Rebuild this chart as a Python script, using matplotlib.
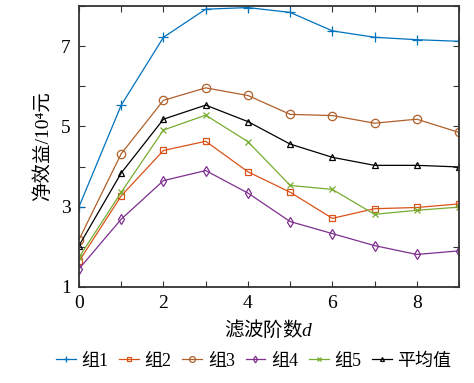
import matplotlib
matplotlib.use("Agg")
import matplotlib.pyplot as plt
import numpy as np

d = [0, 1, 2, 3, 4, 5, 6, 7, 8, 9]
group1 = [3.00, 5.53, 7.22, 7.92, 7.96, 7.84, 7.38, 7.22, 7.16, 7.12]
group2 = [1.64, 3.27, 4.40, 4.63, 3.87, 3.36, 2.71, 2.95, 2.98, 3.07]
group3 = [2.18, 4.32, 5.65, 5.96, 5.77, 5.30, 5.27, 5.08, 5.18, 4.85]
group4 = [1.45, 2.69, 3.65, 3.90, 3.34, 2.63, 2.33, 2.03, 1.81, 1.90]
group5 = [1.74, 3.36, 4.91, 5.28, 4.62, 3.53, 3.43, 2.81, 2.91, 2.99]
mean_v = [2.03, 3.84, 5.18, 5.53, 5.12, 4.56, 4.23, 4.03, 4.03, 3.99]
labels = ["组1", "组2", "组3", "组4", "组5", "平均值"]

plt.rcParams['font.family'] = ['Liberation Serif', 'Noto Sans CJK SC']
plt.rcParams['mathtext.fontset'] = 'custom'
plt.rcParams['mathtext.rm'] = 'Noto Sans CJK SC'
plt.rcParams['mathtext.it'] = 'Liberation Serif:italic'

fig = plt.figure(figsize=(4.74, 3.83), dpi=100)
ax = fig.add_axes([0.1667, 0.2507, 0.8017, 0.7337])

series = [group1, group2, group3, group4, group5, mean_v]
colors = ['#0072BD', '#D95319', '#B0602A', '#7E2F8E', '#77AC30', '#000000']
markers = ['+', 's', 'o', 'd', 'x', '^']
msizes = [7, 5, 6, 5, 5, 4]
for s, c, m, ms, lab in zip(series, colors, markers, msizes, labels):
    ax.plot(d, s, color=c, marker=m, markersize=ms, markerfacecolor='none',
            markeredgewidth=0.9, linewidth=0.9, label=lab)

ax.set_xlim(0, 9)
ax.set_ylim(1, 8)
ax.set_xticks(range(0, 10))
ax.set_xticklabels(['0', '', '2', '', '4', '', '6', '', '8', ''])
ax.set_yticks(range(1, 9))
ax.set_yticklabels(['1', '', '3', '', '5', '', '7', ''])
ax.tick_params(direction='in', top=True, right=True, labelsize=14, length=4,
               width=0.8, color='#333333', pad=6)
for sp in ax.spines.values():
    sp.set_linewidth(1.3)
    sp.set_color('#333333')

ax.set_xlabel(r'$\mathrm{滤波阶数}d$', fontsize=14, labelpad=4)
ax.set_ylabel('净效益/10\u2074元', fontsize=14, labelpad=6)

fig.legend(loc='center', bbox_to_anchor=(0.535, 0.057), ncol=6, frameon=False,
           fontsize=13, handlelength=1.1, handletextpad=0.3, columnspacing=0.6,
           borderaxespad=0, markerscale=0.7)

fig.savefig('out.png', dpi=100)
